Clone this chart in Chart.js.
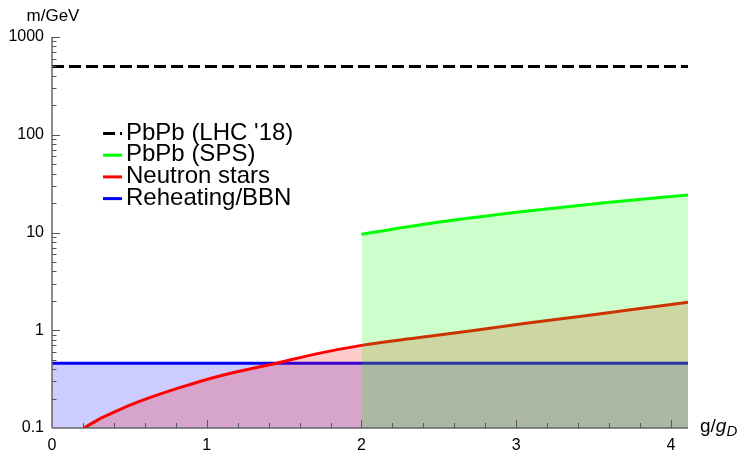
<!DOCTYPE html>
<html>
<head>
<meta charset="utf-8">
<script src="https://cdn.jsdelivr.net/npm/chart.js@4.4.1/dist/chart.umd.min.js"></script>
<style>
  html, body { margin: 0; padding: 0; background: #fff; }
  canvas { display: block; }
</style>
</head>
<body>
<canvas id="chart" width="740" height="455"></canvas>
<script>
// values (x = g/g_D, y = m/GeV)
const seriesNames = ["PbPb (LHC '18)", "PbPb (SPS)", "Neutron stars", "Reheating/BBN"];

const lhcX = [0, 4.11];
const lhcY = [500, 500];

const spsX = [2.0, 2.49, 3.03, 3.57, 4.11];
const spsY = [9.6, 12.7, 16.3, 20.2, 24.2];

const nsX = [0.207, 0.3, 0.38, 0.5, 0.6, 0.81, 1.07, 1.45, 1.7, 2.0, 2.35, 2.7, 3.05, 3.41, 3.75, 4.11];
const nsY = [0.100, 0.122, 0.140, 0.170, 0.196, 0.254, 0.337, 0.460, 0.570, 0.700, 0.834, 0.985, 1.170, 1.385, 1.630, 1.930];

const bbnX = [0, 4.11];
const bbnY = [0.46, 0.46];

const xTicks = [0, 1, 2, 3, 4];
const yTicks = [0.1, 1, 10, 100, 1000];

const pts = (xs, ys) => xs.map((x, i) => ({ x: x, y: ys[i] }));
const FONT = '"Liberation Sans", Arial, Helvetica, sans-serif';

const datasets = [
    { label: seriesNames[0], data: pts(lhcX, lhcY), borderColor: '#000', borderWidth: 3, borderDash: [12, 5], fill: false },
    { label: seriesNames[1], data: pts(spsX, spsY), borderColor: '#00ff00', backgroundColor: 'rgba(0,255,0,0.2)', borderWidth: 3, fill: 'start', cubicInterpolationMode: 'monotone' },
    { label: seriesNames[2], data: pts(nsX, nsY), borderColor: '#ff0000', backgroundColor: 'rgba(255,0,0,0.2)', borderWidth: 3, fill: 'start', cubicInterpolationMode: 'monotone' },
    { label: seriesNames[3], data: pts(bbnX, bbnY), borderColor: '#0000ff', backgroundColor: 'rgba(0,0,255,0.2)', borderWidth: 3, fill: 'start' }
];

// axes drawn Mathematica style: ticks pointing inwards, labels at the ends, legend inside
const frame = {
    id: 'frame',
    afterDatasetsDraw(chart) {
        const { ctx, chartArea: a, scales: { x, y } } = chart;
        ctx.save();

        ctx.strokeStyle = '#666';
        ctx.lineWidth = 1.5;
        ctx.beginPath();
        ctx.moveTo(a.left, a.bottom); ctx.lineTo(a.right, a.bottom);
        ctx.moveTo(a.left, a.bottom); ctx.lineTo(a.left, a.top);
        ctx.stroke();

        ctx.lineWidth = 1;
        ctx.strokeStyle = '#555';
        ctx.beginPath();
        for (let i = 1; i <= Math.floor(x.max * 5 + 1e-6); i++) {
            const px = Math.round(x.getPixelForValue(i / 5)) + 0.5;
            const len = i % 5 === 0 ? 8 : 5;
            ctx.moveTo(px, a.bottom); ctx.lineTo(px, a.bottom - len);
        }
        for (let d = -1; d <= 3; d++) {
            for (let k = 1; k <= 9; k++) {
                const v = k * Math.pow(10, d);
                if (v > y.max * 1.0001) break;
                if (v === 0.1) continue;
                const py = Math.round(y.getPixelForValue(v)) + 0.5;
                const len = k === 1 ? 8 : 4.5;
                ctx.moveTo(a.left, py); ctx.lineTo(a.left + len, py);
            }
        }
        ctx.stroke();

        // axis labels
        ctx.fillStyle = '#000';
        ctx.font = '17px ' + FONT;
        ctx.textAlign = 'center';
        ctx.textBaseline = 'alphabetic';
        ctx.fillText('m/GeV', a.left + 1, 21);

        ctx.textAlign = 'left';
        ctx.font = '19px ' + FONT;
        let tx = 700;
        const ty = 432;
        ctx.fillText('g/', tx, ty);
        tx += ctx.measureText('g/').width;
        ctx.font = 'italic 19px ' + FONT;
        ctx.fillText('g', tx, ty);
        tx += ctx.measureText('g').width;
        ctx.font = 'italic 15px ' + FONT;
        ctx.fillText('D', tx, ty + 4);

        // legend
        const cols = chart.data.datasets.map(ds => ds.borderColor);
        ctx.font = '24px ' + FONT;
        seriesNames.forEach((name, i) => {
            const base = 139.5 + i * 21.7;
            const ly = base - 6;
            ctx.strokeStyle = cols[i];
            ctx.lineWidth = 3;
            ctx.setLineDash(i === 0 ? [12, 5] : []);
            ctx.beginPath();
            ctx.moveTo(103, ly); ctx.lineTo(122, ly);
            ctx.stroke();
            ctx.setLineDash([]);
            ctx.fillStyle = '#000';
            ctx.fillText(name, 126, base);
        });

        ctx.restore();
    }
};

const ctx = document.getElementById('chart').getContext('2d');

new Chart(ctx, {
    type: 'line',
    data: { datasets: datasets },
    options: {
        responsive: false,
        animation: false,
        layout: { padding: { top: 37, right: 52, left: 0, bottom: 0 } },
        elements: { point: { radius: 0 }, line: { borderCapStyle: 'butt' } },
        plugins: { legend: { display: false }, tooltip: { enabled: false } },
        scales: {
            x: {
                type: 'linear',
                min: 0,
                max: 4.11,
                afterBuildTicks: s => { s.ticks = xTicks.map(v => ({ value: v })); },
                afterFit: s => { s.height = 27; },
                grid: { display: false, drawTicks: false },
                border: { display: false },
                ticks: { padding: 8, color: '#000', font: { family: FONT, size: 16 }, maxRotation: 0, autoSkip: false,
                         callback: v => String(v) }
            },
            y: {
                type: 'logarithmic',
                min: 0.1,
                max: 1000,
                afterBuildTicks: s => { s.ticks = yTicks.map(v => ({ value: v })); },
                afterFit: s => { s.width = 52; },
                grid: { display: false, drawTicks: false },
                border: { display: false },
                ticks: { padding: 8, color: '#000', font: { family: FONT, size: 16 }, autoSkip: false,
                         callback: v => String(v) }
            }
        }
    },
    plugins: [frame]
});
</script>
</body>
</html>
